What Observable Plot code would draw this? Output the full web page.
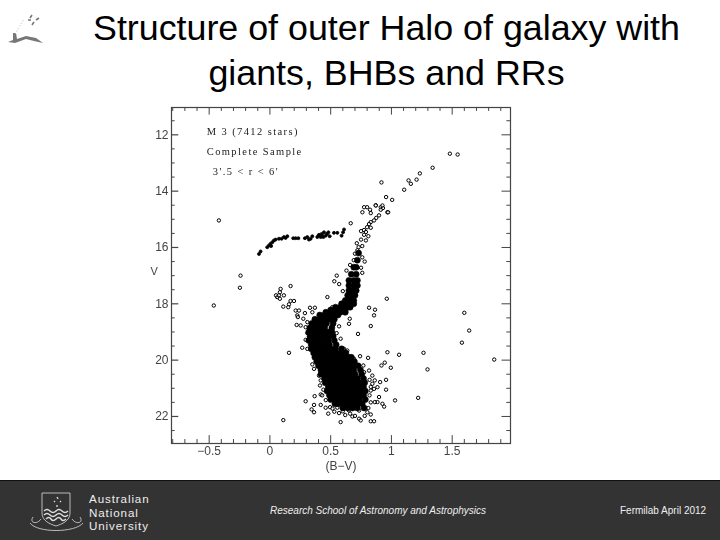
<!DOCTYPE html>
<html><head><meta charset="utf-8">
<script src="https://cdn.jsdelivr.net/npm/d3@7"></script>
<script src="https://cdn.jsdelivr.net/npm/@observablehq/plot@0.6"></script>
<style>
html,body{margin:0;padding:0;background:#fff;width:720px;height:540px;overflow:hidden;font-family:"Liberation Sans",Arial,sans-serif}
#title{height:100px;box-sizing:border-box;padding:6px 0 0 53px;margin:0;text-align:center;font-size:35.8px;line-height:45px;font-weight:400;color:#000}
#chart{height:380px}
#chart svg{display:block;filter:blur(.35px)}
#foot{position:relative;height:60px;background:#333;border-top:1px solid #111;box-sizing:border-box;color:#eee}
#foot div{position:absolute;white-space:nowrap}
#mark{position:absolute;left:6px;top:10px}
</style></head><body>
<svg id="mark" width="42" height="36" viewBox="0 0 42 36"><path d="M2 32 L7 30 L7 23 L10 23 L11 29 L20 26 L30 28 L37 33 L28 31 L20 29 L9 33 Z" fill="#777"/><path d="M9 24 L18 9" stroke="#bbb" stroke-dasharray="1 2" fill="none"/><path d="M24 8 L26 5 M22 10 L25 10 M30 10 L33 8 M26 15 L28 12" stroke="#777" stroke-width="1.6"/></svg>
<h1 id="title">Structure of outer Halo of galaxy with<br>giants, BHBs and RRs</h1>
<div id="chart"></div>
<div id="foot">
<svg style="position:absolute;left:29px;top:10px" width="55" height="44" viewBox="0 0 55 44" fill="none" stroke="#ddd" stroke-width=".8"><path d="M13 2 H41 V22 C41 30 33 33 27 35 C21 33 13 30 13 22 Z"/><path d="M15 20 q3-3 6 0 t6 0 t6 0 t6 0 M15 24 q3-3 6 0 t6 0 t6 0 t6 0 M17 28 q3-3 5 0 t5 0 t5 0 t5 0" stroke-width="1.5"/><path d="M1 32 C8 42 46 42 54 32 M4 26 C0 32 8 34 12 28 M51 26 C55 32 47 34 43 28"/><path d="M28 6 l1 2 M25 10 l1 1 M31 10 l1 1 M28 14 l0 2" stroke-width="1.3"/></svg>
<div style="left:89px;top:11px;font-size:11.6px;line-height:13.5px;letter-spacing:.9px">Australian<br>National<br>University</div>
<div style="left:270px;top:24px;font-size:10px;font-style:italic">Research School of Astronomy and Astrophysics</div>
<div style="left:620px;top:24px;font-size:10px">Fermilab April 2012</div>
</div>
<script>
// Upper giant branch and other sparse stars [B-V, V]
const giants = [[1.481,12.67],[1.545,12.7],[1.339,13.17],[1.234,13.37],[1.141,13.62],[1.16,13.74],[1.207,13.59],[1.105,13.95],[.918,13.69],[.956,14.21],[1.006,14.31],[.871,14.5],[.912,14.57],[.93,14.6],[.967,14.75],[.761,14.75],[.775,14.57],[.8,14.57],[.824,14.66],[.83,14.78],[.871,14.51],[.912,14.66],[.926,14.51],[.973,14.75],[.665,15.14],[.898,14.86],[.875,14.95],[.857,15.04],[.83,15.1],[.816,15.17],[.8,15.28],[.83,15.3],[.775,15.38],[.75,15.42],[.79,15.45],[.775,15.55],[.81,15.6],[.75,15.72],[.79,15.75],[.715,15.85],[.73,15.99],[.76,15.95],[.72,16.1],[.7,16.22],[.76,16.35],[.69,16.45],[.78,16.5],[.66,16.62],[.75,16.72],[.63,16.82],[.76,16.9]];
// Horizontal branch [B-V, V]
const horizontalBranch = [[-.09,16.23],[-.077,16.14],[-.022,15.99],[-.008,15.93],[.005,15.87],[.02,15.81],[.01,15.95],[.033,15.75],[.047,15.72],[.074,15.69],[.096,15.69],[.115,15.63],[.129,15.66],[.143,15.6],[.192,15.67],[.212,15.67],[.234,15.67],[.288,15.67],[.308,15.63],[.321,15.72],[.335,15.69],[.349,15.6],[.39,15.63],[.404,15.55],[.418,15.63],[.431,15.58],[.445,15.46],[.459,15.58],[.481,15.46],[.492,15.6],[.527,15.48],[.555,15.48],[.59,15.58],[.602,15.46],[.61,15.36],[.4,15.58],[.425,15.52],[.44,15.63],[.47,15.52]];
// Stars scattered off the sequence [B-V, V]
const scatter = [[-.42,15.04],[-.242,17],[-.247,17.43],[.17,17.37],[.088,17.47],[.082,17.59],[.06,17.76],[.115,17.7],[.05,17.7],[-.462,18.06],[.074,17.7],[.082,17.82],[.11,18.1],[.157,18.02],[.17,17.9],[.198,17.9],[.151,18.12],[.212,18.24],[.239,18.24],[.225,18.41],[.33,18.14],[.37,18.14],[.288,18.33],[.349,18.3],[.23,18.47],[.275,18.53],[.308,18.65],[.22,18.75],[.253,18.77],[.294,18.83],[.308,19.04],[.294,19.28],[.266,19.56],[.157,19.74],[.473,17.76],[.514,18.12],[.816,18.14],[.865,18.21],[.857,18.41],[.962,17.82],[.83,18.79],[.725,19.07],[.651,18.71],[.657,18.53],[.569,18.8],[.549,19.04],[.582,19.24],[.55,17.0],[.53,17.2],[.57,17.3],[.6,17.55],[1.6,18.32],[1.64,18.95],[1.58,19.38],[1.264,19.74],[1.063,19.81],[.967,19.72],[.742,19.86],[.808,19.92],[1.846,19.98],[1.297,20.33],[.995,20.27],[.945,20.09],[.918,20.19],[.769,20.19],[.956,20.7],[.956,21.05],[.907,20.78],[1.03,21.43],[1.22,21.34],[.11,22.13],[.582,22.2],[.294,21.46],[.363,21.59],[.343,21.75],[.363,21.85],[.418,21.59],[.368,21.28],[.418,21.22],[.495,21.67],[.515,21.72],[.569,21.88],[.679,22],[.734,22.08],[.747,22.14],[.83,22.17],[.857,22.17],[.83,21.93],[.802,21.85],[.734,21.79],[.651,21.79],[.61,21.69],[.555,21.69],[.459,21.69],[.5,21.37],[.843,20.55],[.816,20.37],[.863,20.72],[.885,20.96],[.857,21.02],[.83,21.08],[.843,20.84],[.898,21.31],[.885,21.49],[.926,21.55],[.94,21.65],[.863,21.49],[.418,20.72],[.412,20.9],[.404,20.55],[.349,20.15],[.363,20.31],[.308,19.6],[.61,19.6],[.637,19.66],[.692,19.95],[.734,20.19],[.775,20.43],[.48,21.9],[.53,21.83],[.62,21.95],[.66,21.9],[.7,21.98],[.78,21.98],[.6,21.82],[.44,21.05],[.43,21.25],[.46,21.42],[.82,20.7],[.83,20.95],[.82,21.25],[.83,21.5],[.81,21.7]];
// Rows of the dense sequence
const coreV = [16.2,16.45,16.7,16.95,17.17,17.35,17.53,17.7,17.88,18,18.12,18.22,18.3,18.4,18.55,18.7,18.85,19,19.15,19.3,19.45,19.6,19.75,19.9,20.05,20.2,20.35,20.5,20.65,20.8,20.95,21.1,21.25,21.4,21.55,21.7];
const coreBV = [
[.73],[.72],[.69,.71],[.67,.71],[.65,.69,.72],[.65,.69,.72],[.65,.68,.71],[.64,.67,.7],[.62,.66,.69],[.59,.63,.67,.69],[.54,.58,.62,.66],[.5,.54,.58,.62],[.46,.5,.54,.58,.62],
[.41,.45,.49,.53,.56],[.37,.41,.45,.49,.53],[.345,.385,.425,.465,.52],[.33,.37,.41,.45,.51],[.32,.36,.4,.44,.48,.51],[.33,.36,.4,.44,.48,.52],[.32,.36,.4,.44,.48,.53],[.34,.37,.41,.45,.49,.545],[.34,.38,.42,.46,.5,.54,.59],[.36,.39,.43,.47,.51,.55,.59,.625],[.37,.41,.45,.49,.53,.57,.61,.65,.67],[.385,.425,.465,.505,.545,.585,.625,.665,.695],[.4,.44,.48,.52,.56,.6,.64,.68,.725],[.42,.45,.49,.53,.57,.61,.65,.69,.745],[.42,.46,.5,.54,.58,.62,.66,.7,.755],[.45,.48,.52,.56,.6,.64,.68,.72,.77],[.455,.495,.535,.575,.615,.655,.695,.735,.78],[.48,.51,.55,.59,.63,.67,.71,.75,.77],[.47,.51,.55,.59,.63,.67,.71,.75,.785],[.49,.52,.56,.6,.64,.68,.72,.76,.77],[.5,.535,.575,.615,.655,.695,.735,.785],[.535,.565,.605,.645,.685,.725,.76],[.6,.64,.68,.72,.775]];
// Axis ticks
const xMajor = [-.5,0,.5,1,1.5];
const xMinor = [-.8,-.7,-.6,-.4,-.3,-.2,-.1,.1,.2,.3,.4,.6,.7,.8,.9,1.1,1.2,1.3,1.4,1.6,1.7,1.8,1.9];
const yMajor = [12,14,16,18,20,22];
const yMinor = [11.5,12.5,13,13.5,14.5,15,15.5,16.5,17,17.5,18.5,19,19.5,20.5,21,21.5,22.5];
const notes = ["M 3 (7412 stars)","Complete Sample","3'.5 < r < 6'"];
const noteBV = [-.52,-.52,-.47];
const noteV = [11.9,12.6,13.3];

const xD=[-.81,1.98], yD=[11.03,22.96];
const core = coreV.flatMap((v,i)=>coreBV[i].map(b=>[b,v]));
const ink="#222", txt="#444";
const tx=(d,a,b,w)=>Plot.ruleX(d,{x:v=>v,y1:a,y2:b,stroke:"#444",strokeWidth:w});
const ty=(d,a,b,w)=>Plot.ruleY(d,{y:v=>v,x1:a,x2:b,stroke:"#444",strokeWidth:w});
const svg = Plot.plot({
  width:720,height:380,marginLeft:171,marginRight:210,marginTop:7,marginBottom:37,
  style:{background:"transparent",fontFamily:"'Liberation Sans',sans-serif"},
  x:{domain:xD,range:[171,510]},
  y:{domain:yD,range:[7,343]},
  marks:[
    Plot.frame({stroke:"#444",strokeWidth:1.2}),
    tx(xMajor,22.96,22.68,1), tx(xMinor,22.96,22.82,1),
    tx(xMajor,11.03,11.3,1), tx(xMinor,11.03,11.17,1),
    ty(yMajor,-.81,-.75,1.2), ty(yMinor,-.81,-.78,1),
    ty(yMajor,1.98,1.91,1), ty(yMinor,1.98,1.95,1),
    Plot.axisX(xMajor,{anchor:"bottom",tickSize:0,tickPadding:3,fontSize:12,color:txt,
      tickFormat:v=>v<0?"−"+Math.abs(v):String(v),label:"(B−V)",labelAnchor:"center",labelArrow:"none",labelOffset:26}),
    Plot.axisY(yMajor,{anchor:"left",tickSize:0,tickPadding:3,fontSize:12,color:txt,tickFormat:d=>String(d),label:null}),
    Plot.text(["V"],{frameAnchor:"left",dx:-21,dy:-4,text:d=>d,fontSize:11,fill:txt,textAnchor:"start"}),
    Plot.text(notes,{x:(d,i)=>noteBV[i],y:(d,i)=>noteV[i],text:d=>d,textAnchor:"start",fontSize:10.5,fill:ink,
      fontFamily:"'Liberation Serif',serif"}),
    Plot.dot(horizontalBranch,{x:"0",y:"1",r:1.5,fill:"#000",stroke:"#000",strokeWidth:.8}),
    Plot.dot(giants,{x:"0",y:"1",r:1.7,fill:"#fff",fillOpacity:.5,stroke:"#000",strokeWidth:1}),
    Plot.dot(scatter,{x:"0",y:"1",r:1.7,fill:"#fff",fillOpacity:.5,stroke:"#000",strokeWidth:1}),
    Plot.dot(core,{x:"0",y:"1",r:3,fill:"#000",stroke:"#000",strokeWidth:.6})
  ]
});
svg.querySelectorAll("text").forEach(t=>{ if(notes.includes(t.textContent)) t.setAttribute("letter-spacing","1.4"); });
document.getElementById("chart").appendChild(svg);
</script>
</body></html>
